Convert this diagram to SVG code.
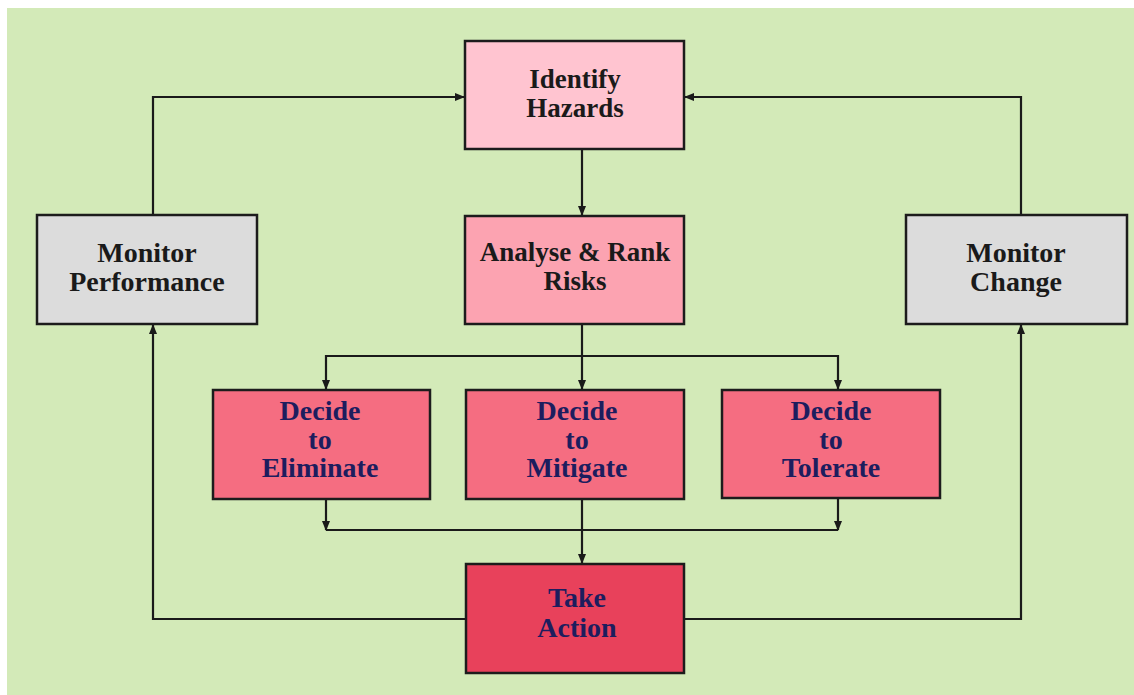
<svg xmlns="http://www.w3.org/2000/svg" width="1134" height="695" viewBox="0 0 1134 695">
<defs>
<style>
.box{stroke:#1c1c1c;stroke-width:2.5}
.t{font-family:"Liberation Serif","Times New Roman",serif;font-weight:bold;font-size:28px;text-anchor:middle}
.s{font-size:27px}
.dk{fill:#1a1a1a}
.nv{fill:#1d1d5e}
.c{fill:none;stroke:#1a1a1a;stroke-width:2.2}
</style>
<marker id="ah" markerWidth="10" markerHeight="10" refX="9" refY="5" orient="auto" markerUnits="userSpaceOnUse">
<path d="M0,1 L10,5 L0,9 Z" fill="#1a1a1a"/>
</marker>
</defs>
<rect x="0" y="0" width="1134" height="695" fill="#ffffff"/>
<rect x="7" y="8" width="1127" height="687" fill="#d3eab8"/>

<g id="connectors">
<path class="c" d="M153,215 V97 H464" marker-end="url(#ah)"/>
<path class="c" d="M1021,215 V97 H685" marker-end="url(#ah)"/>
<path class="c" d="M582,149 V215" marker-end="url(#ah)"/>
<path class="c" d="M582,324 V389" marker-end="url(#ah)"/>
<path class="c" d="M582,356 H326 V389" marker-end="url(#ah)"/>
<path class="c" d="M582,356 H838 V389" marker-end="url(#ah)"/>
<path class="c" d="M326,499 V530" marker-end="url(#ah)"/>
<path class="c" d="M838,499 V530" marker-end="url(#ah)"/>
<path class="c" d="M326,530 H838"/>
<path class="c" d="M582,499 V563" marker-end="url(#ah)"/>
<path class="c" d="M466,619 H153 V325" marker-end="url(#ah)"/>
<path class="c" d="M684,619 H1021 V325" marker-end="url(#ah)"/>
</g>

<g id="identify">
<rect class="box" x="465" y="41" width="219" height="108" fill="#ffc4d0"/>
<text class="t s dk" x="575" y="88">Identify</text>
<text class="t s dk" x="575" y="117">Hazards</text>
</g>
<g id="analyse">
<rect class="box" x="465" y="216" width="219" height="108" fill="#fca3b1"/>
<text class="t s dk" x="575" y="261">Analyse &amp; Rank</text>
<text class="t s dk" x="575" y="290">Risks</text>
</g>
<g id="monitor-performance">
<rect class="box" x="37" y="215" width="220" height="109" fill="#dcdcdc"/>
<text class="t dk" x="147" y="262">Monitor</text>
<text class="t dk" x="147" y="291">Performance</text>
</g>
<g id="monitor-change">
<rect class="box" x="906" y="215" width="221" height="109" fill="#dcdcdc"/>
<text class="t dk" x="1016" y="262">Monitor</text>
<text class="t dk" x="1016" y="291">Change</text>
</g>
<g id="eliminate">
<rect class="box" x="213" y="390" width="217" height="109" fill="#f56d81"/>
<text class="t nv" x="320" y="420">Decide</text>
<text class="t nv" x="320" y="449">to</text>
<text class="t nv" x="320" y="477">Eliminate</text>
</g>
<g id="mitigate">
<rect class="box" x="466" y="390" width="218" height="109" fill="#f56d81"/>
<text class="t nv" x="577" y="420">Decide</text>
<text class="t nv" x="577" y="449">to</text>
<text class="t nv" x="577" y="477">Mitigate</text>
</g>
<g id="tolerate">
<rect class="box" x="722" y="390" width="218" height="108" fill="#f56d81"/>
<text class="t nv" x="831" y="420">Decide</text>
<text class="t nv" x="831" y="449">to</text>
<text class="t nv" x="831" y="477">Tolerate</text>
</g>
<g id="take-action">
<rect class="box" x="466" y="564" width="218" height="109" fill="#e8415b"/>
<text class="t nv" x="577" y="607">Take</text>
<text class="t nv" x="577" y="637">Action</text>
</g>
</svg>
